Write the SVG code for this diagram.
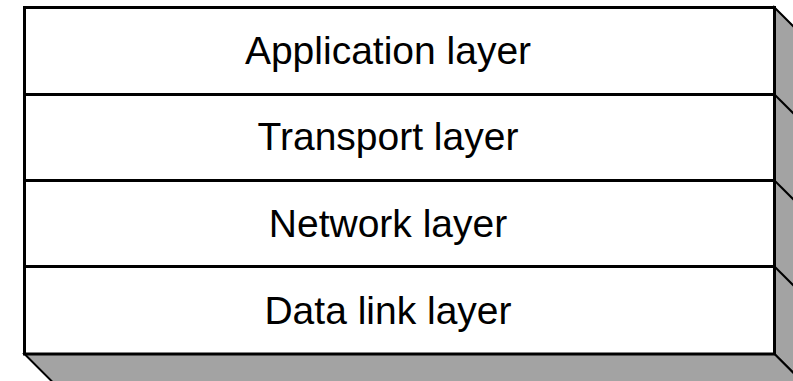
<svg xmlns="http://www.w3.org/2000/svg" width="793" height="381" viewBox="0 0 793 381">
  <style>
    .face { fill: #ffffff; stroke: #000000; stroke-width: 3; }
    .side { fill: #a3a3a3; stroke: #000000; stroke-width: 2; stroke-linejoin: miter; }
    .edge { stroke: #000000; stroke-width: 2; fill: none; }
    .divider { stroke: #000000; stroke-width: 3; }
    .label { font-family: "Liberation Sans", Arial, sans-serif; font-size: 39px; fill: #000000; text-anchor: middle; }
  </style>
  <rect width="793" height="381" fill="#ffffff"/>

  <!-- extruded right and bottom faces of the stack -->
  <g id="extrusion">
    <polygon class="side" points="774.5,7.5 814.5,47.5 814.5,394 774.5,354"/>
    <polygon class="side" points="24.5,354 64.5,394 814.5,394 774.5,354"/>
  </g>

  <!-- front outline of the stack -->
  <rect class="face" x="24.5" y="7.5" width="750" height="346.5"/>

  <g id="layer-application">
    <text class="label" x="388" y="64">Application layer</text>
  </g>
  <g id="layer-transport">
    <line class="divider" x1="24.5" y1="94.5" x2="774.5" y2="94.5"/>
    <line class="edge" x1="774.5" y1="94.5" x2="814.5" y2="134.5"/>
    <text class="label" x="388" y="150">Transport layer</text>
  </g>
  <g id="layer-network">
    <line class="divider" x1="24.5" y1="180.5" x2="774.5" y2="180.5"/>
    <line class="edge" x1="774.5" y1="180.5" x2="814.5" y2="220.5"/>
    <text class="label" x="388" y="237">Network layer</text>
  </g>
  <g id="layer-datalink">
    <line class="divider" x1="24.5" y1="266.5" x2="774.5" y2="266.5"/>
    <line class="edge" x1="774.5" y1="266.5" x2="814.5" y2="306.5"/>
    <text class="label" x="388" y="324">Data link layer</text>
  </g>
</svg>
